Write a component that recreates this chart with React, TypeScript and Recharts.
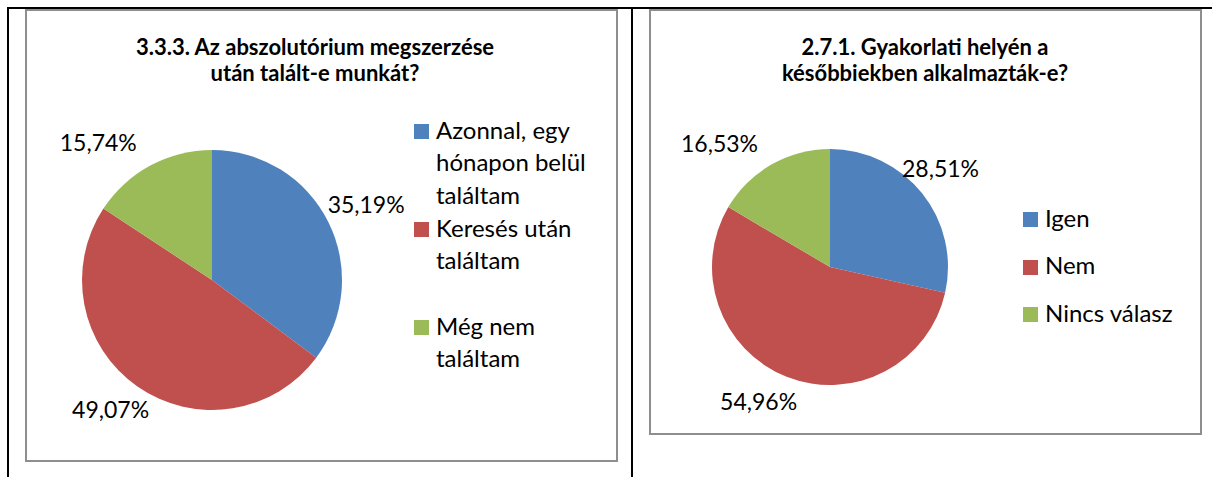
import { PieChart, Pie, Cell } from "recharts";

const COLORS = ["#4F81BD", "#C0504D", "#9BBB59"];

// 3.3.3 – found a job after the absolutorium
const jobTitle = ["3.3.3. Az abszolutórium megszerzése", "után talált-e munkát?"];
const jobNames = ["Azonnal, egy\nhónapon belül\ntaláltam", "Keresés után\ntaláltam", "Még nem\ntaláltam"];
const jobValues = [35.19, 49.07, 15.74];

// 2.7.1 – hired later at the internship place
const hiredTitle = ["2.7.1. Gyakorlati helyén a", "későbbiekben alkalmazták-e?"];
const hiredNames = ["Igen", "Nem", "Nincs válasz"];
const hiredValues = [28.51, 54.96, 16.53];

const FONT = "Lato, 'Noto Sans', sans-serif";
const RAD = Math.PI / 180;

const fmt = (v: number) => v.toFixed(2).replace(".", ",") + "%";

function makeLabel(dist: number, nudges: number[][]) {
  return (p: any) => {
    const r = p.outerRadius + dist;
    const [nx, ny] = nudges[p.index] ?? [0, 0];
    const x = p.cx + r * Math.cos(-p.midAngle * RAD) + nx;
    const y = p.cy + r * Math.sin(-p.midAngle * RAD) + ny;
    return (
      <text x={x} y={y} textAnchor="middle" dominantBaseline="central" fill="#000" fontSize={23} fontFamily={FONT}>
        {fmt(p.value)}
      </text>
    );
  };
}

interface PanelProps {
  box: { left: number; top: number; width: number; height: number };
  title: string[];
  titleCenter: number;
  names: string[];
  values: number[];
  cx: number;
  cy: number;
  radius: number;
  labelDist: number;
  nudges: number[][];
  legendX: number;
  legendTop: number;
  legendPitch: number;
}

function Panel(p: PanelProps) {
  const data = p.names.map((name, i) => ({ name, value: p.values[i] }));
  return (
    <>
      <div
        style={{
          position: "absolute",
          left: p.box.left,
          top: p.box.top,
          width: p.box.width,
          height: p.box.height,
          boxSizing: "border-box",
          border: "2px solid #8e8e8e",
          background: "#fff",
        }}
      />
      <div style={{ position: "absolute", left: p.box.left, top: p.box.top }}>
        <PieChart width={p.box.width} height={p.box.height} margin={{ top: 0, right: 0, bottom: 0, left: 0 }}>
          <Pie
            data={data}
            dataKey="value"
            nameKey="name"
            cx={p.cx - p.box.left}
            cy={p.cy - p.box.top}
            outerRadius={p.radius}
            startAngle={90}
            endAngle={-270}
            stroke="none"
            labelLine={false}
            label={makeLabel(p.labelDist, p.nudges)}
            isAnimationActive={false}
          >
            {data.map((d, i) => (
              <Cell key={d.name} fill={COLORS[i]} />
            ))}
          </Pie>
        </PieChart>
      </div>
      <div
        style={{
          position: "absolute",
          left: p.titleCenter - 300,
          top: 34,
          width: 600,
          textAlign: "center",
          fontFamily: FONT,
          fontWeight: 700,
          fontSize: 22,
          lineHeight: "26px",
          color: "#000",
        }}
      >
        {p.title.map((t) => (
          <div key={t}>{t}</div>
        ))}
      </div>
      {p.names.map((name, i) => (
        <div key={name} style={{ position: "absolute", left: p.legendX, top: p.legendTop + i * p.legendPitch }}>
          <div style={{ position: "absolute", left: 0, top: 10.5, width: 15, height: 15, background: COLORS[i] }} />
          <div
            style={{
              position: "absolute",
              left: 22,
              top: 0,
              whiteSpace: "pre",
              fontFamily: FONT,
              fontSize: 24,
              lineHeight: "32.5px",
              color: "#000",
            }}
          >
            {name}
          </div>
        </div>
      ))}
    </>
  );
}

export default function App() {
  const line = { position: "absolute" as const, background: "#000" };
  return (
    <div style={{ position: "absolute", left: 0, top: 0, width: 1212, height: 477, background: "#fff", overflow: "hidden" }}>
      <Panel
        box={{ left: 25, top: 9, width: 593, height: 453 }}
        title={jobTitle}
        titleCenter={315}
        names={jobNames}
        values={jobValues}
        cx={212}
        cy={280}
        radius={130}
        labelDist={38}
        nudges={[[4, -1], [-5, -9], [-34, 10]]}
        legendX={414}
        legendTop={113.5}
        legendPitch={98}
      />
      <Panel
        box={{ left: 649, top: 9, width: 553, height: 426 }}
        title={hiredTitle}
        titleCenter={925}
        names={hiredNames}
        values={hiredValues}
        cx={830}
        cy={267}
        radius={118}
        labelDist={30}
        nudges={[[-5, -7], [-17, -4], [-37, 4]]}
        legendX={1023}
        legendTop={201.5}
        legendPitch={47.5}
      />
      <div style={{ ...line, left: 7, top: 7, width: 1205, height: 2 }} />
      <div style={{ ...line, left: 7, top: 7, width: 2, height: 470 }} />
      <div style={{ ...line, left: 631, top: 7, width: 2, height: 470 }} />
    </div>
  );
}
